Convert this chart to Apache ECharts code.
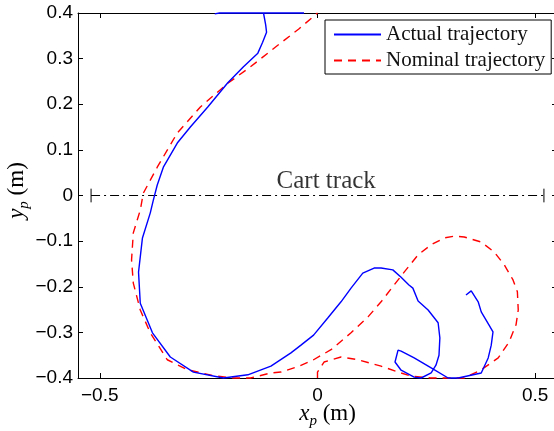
<!DOCTYPE html>
<html>
<head>
<meta charset="utf-8">
<script src="https://cdn.jsdelivr.net/npm/echarts@6/dist/echarts.min.js"></script>
<style>
html,body{margin:0;padding:0;background:#fff;}
#c{width:554px;height:431px;}
</style>
</head>
<body>
<div id="c"></div>
<script>
// ---- data ----
const xTickValues = [-0.5, 0, 0.5];
const actualX = [0.341,0.353,0.369,0.376,0.394,0.403,0.399,0.392,0.376,0.323,0.300,0.261,0.222,0.192,0.185,0.178,0.192,0.222,0.238,0.261,0.272,0.279,0.281,0.277,0.254,0.231,0.219,0.210,0.192,0.173,0.146,0.130,0.104,0.077,0.054,0.024,-0.009,-0.038,-0.061,-0.107,-0.160,-0.216,-0.285,-0.338,-0.379,-0.407,-0.411,-0.402,-0.384,-0.377,-0.368,-0.354,-0.322,-0.292,-0.252,-0.206,-0.170,-0.137,-0.126,-0.117,-0.119,-0.124,-0.031,-0.225,-0.236];
const actualY = [-0.218,-0.209,-0.233,-0.255,-0.284,-0.299,-0.328,-0.356,-0.389,-0.400,-0.400,-0.378,-0.356,-0.341,-0.339,-0.365,-0.383,-0.398,-0.400,-0.389,-0.372,-0.350,-0.312,-0.279,-0.251,-0.231,-0.203,-0.196,-0.179,-0.163,-0.159,-0.159,-0.170,-0.203,-0.233,-0.268,-0.306,-0.328,-0.345,-0.374,-0.393,-0.400,-0.387,-0.354,-0.301,-0.236,-0.168,-0.093,-0.038,-0.010,0.023,0.062,0.115,0.150,0.194,0.247,0.282,0.312,0.336,0.358,0.374,0.400,0.400,0.400,0.398];
const nominalX = [0,0,0.015,0.054,0.093,0.146,0.185,0.215,0.260,0.337,0.376,0.415,0.440,0.456,0.461,0.459,0.449,0.429,0.406,0.376,0.337,0.314,0.291,0.261,0.231,0.199,0.176,0.146,0.116,0.077,0.031,-0.009,-0.045,-0.084,-0.107,-0.154,-0.193,-0.239,-0.298,-0.345,-0.384,-0.407,-0.423,-0.427,-0.423,-0.407,-0.400,-0.368,-0.322,-0.269,-0.206,-0.154,-0.097,-0.043,0];
const nominalY = [-0.400,-0.387,-0.365,-0.354,-0.360,-0.374,-0.387,-0.396,-0.400,-0.400,-0.382,-0.356,-0.321,-0.283,-0.251,-0.211,-0.185,-0.152,-0.124,-0.102,-0.091,-0.089,-0.093,-0.108,-0.130,-0.168,-0.196,-0.233,-0.266,-0.301,-0.338,-0.360,-0.375,-0.387,-0.389,-0.400,-0.400,-0.395,-0.382,-0.360,-0.301,-0.251,-0.192,-0.141,-0.082,-0.032,0.005,0.062,0.137,0.194,0.246,0.282,0.325,0.365,0.400];
const trackEndsX = [-0.52, 0.52];
const trackY = 0;
const trackEndHalf = 0.015;
const trackLabel = 'Cart track';
const trackLabelPos = [0.02, 0.03];
const seriesNames = ['Actual trajectory', 'Nominal trajectory'];

const pairs = (xs, ys) => xs.map((x, i) => [x, ys[i]]);
const fmt = v => {
  if (Math.abs(v) < 1e-9) return '0';
  const s = Math.abs(v).toFixed(1);
  return (v < 0 ? '\u2212' : '') + s;
};

const SANS = '"Liberation Sans", Arial, sans-serif';
const SERIF = '"Liberation Serif", "Times New Roman", serif';
const black = '#000';

const chart = echarts.init(document.getElementById('c'), null, {renderer: 'canvas'});

const nameRich = {
  i: {fontFamily: SERIF, fontStyle: 'italic', fontSize: 23, lineHeight: 30, color: black},
  s: {fontFamily: SERIF, fontStyle: 'italic', fontSize: 15, lineHeight: 30, verticalAlign: 'bottom', color: black},
  r: {fontFamily: SERIF, fontSize: 23, lineHeight: 30, color: black}
};

const baseAxisLine = {show: true, onZero: false, lineStyle: {color: black, width: 1}};

chart.setOption({
  animation: false,
  backgroundColor: '#fff',
  grid: {left: 78, top: 13, width: 479, height: 365, containLabel: false, outerBoundsMode: 'none'},
  legend: {
    data: seriesNames,
    orient: 'vertical',
    left: 325,
    top: 20,
    itemWidth: 47,
    itemHeight: 14,
    itemGap: 5,
    padding: [4, 6, 3, 8],
    backgroundColor: '#fff',
    borderColor: black,
    borderWidth: 1,
    borderRadius: 0,
    itemStyle: {opacity: 0},
    textStyle: {fontFamily: SERIF, fontSize: 21, color: '#111', padding: [0, 0, 0, 0]},
    selectedMode: false
  },
  xAxis: [
    {
      type: 'value', min: -0.55, max: 0.55, position: 'bottom',
      axisLine: baseAxisLine,
      axisTick: {show: true, inside: true, length: 5, customValues: xTickValues, lineStyle: {color: black}},
      axisLabel: {customValues: xTickValues, formatter: fmt, fontFamily: SANS, fontSize: 19, color: black, margin: 8},
      splitLine: {show: false},
      name: '{i|x}{s|p}{r| (m)}',
      nameLocation: 'middle',
      nameGap: 21,
      nameMoveOverlap: false,
      nameTextStyle: {rich: nameRich, padding: [0, 0, 0, 20]}
    },
    {
      type: 'value', min: -0.55, max: 0.55, position: 'top',
      axisLine: baseAxisLine,
      axisTick: {show: true, inside: true, length: 5, customValues: xTickValues, lineStyle: {color: black}},
      axisLabel: {show: false},
      splitLine: {show: false}
    }
  ],
  yAxis: [
    {
      type: 'value', min: -0.4, max: 0.4, interval: 0.1, position: 'left',
      axisLine: baseAxisLine,
      axisTick: {show: true, inside: true, length: 5, lineStyle: {color: black}},
      axisLabel: {formatter: fmt, fontFamily: SANS, fontSize: 19, color: black, margin: 5},
      splitLine: {show: false},
      name: '{i|y}{s|p}{r| (m)}',
      nameLocation: 'middle',
      nameGap: 46,
      nameMoveOverlap: false,
      nameTextStyle: {rich: nameRich, padding: [0, 0, 0, 10]}
    },
    {
      type: 'value', min: -0.4, max: 0.4, interval: 0.1, position: 'right',
      axisLine: baseAxisLine,
      axisTick: {show: true, inside: true, length: 5, lineStyle: {color: black}},
      axisLabel: {show: false},
      splitLine: {show: false}
    }
  ],
  series: [
    {
      name: 'track',
      type: 'line',
      xAxisIndex: 0, yAxisIndex: 0,
      data: trackEndsX.map(x => [x, trackY]),
      symbol: 'none',
      lineStyle: {color: black, width: 1, type: [9, 4, 2, 4]},
      silent: true, z: 1
    },
    {
      name: 'trackEndL',
      type: 'line',
      xAxisIndex: 0, yAxisIndex: 0,
      data: [[trackEndsX[0], trackY - trackEndHalf], [trackEndsX[0], trackY + trackEndHalf]],
      symbol: 'none',
      lineStyle: {color: black, width: 1},
      silent: true, z: 1
    },
    {
      name: 'trackEndR',
      type: 'line',
      xAxisIndex: 0, yAxisIndex: 0,
      data: [[trackEndsX[1], trackY - trackEndHalf], [trackEndsX[1], trackY + trackEndHalf]],
      symbol: 'none',
      lineStyle: {color: black, width: 1},
      silent: true, z: 1
    },
    {
      name: 'trackLabel',
      type: 'scatter',
      xAxisIndex: 0, yAxisIndex: 0,
      data: [trackLabelPos],
      symbolSize: 1,
      itemStyle: {color: 'transparent'},
      label: {show: true, position: 'inside', formatter: trackLabel, fontFamily: SERIF, fontSize: 25, color: '#000'},
      silent: true, z: 3
    },
    {
      name: seriesNames[1],
      type: 'line',
      xAxisIndex: 0, yAxisIndex: 0,
      data: pairs(nominalX, nominalY),
      symbol: 'none',
      clip: false,
      lineStyle: {color: '#ff0000', width: 1.4, type: [8, 6]},
      itemStyle: {color: '#ff0000'},
      z: 4
    },
    {
      name: seriesNames[0],
      type: 'line',
      xAxisIndex: 0, yAxisIndex: 0,
      data: pairs(actualX, actualY),
      symbol: 'none',
      clip: false,
      lineStyle: {color: '#0000ff', width: 1.4},
      itemStyle: {color: '#0000ff'},
      z: 5
    }
  ]
});
</script>
</body>
</html>
